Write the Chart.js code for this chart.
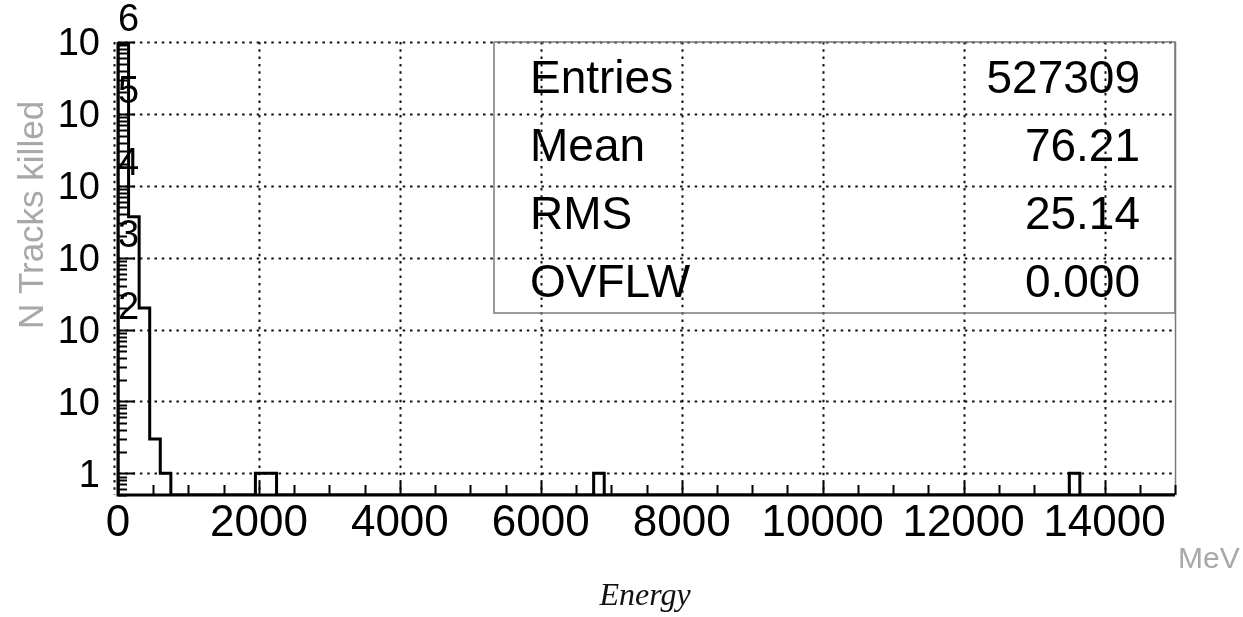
<!DOCTYPE html>
<html>
<head>
<meta charset="utf-8">
<script src="https://cdn.jsdelivr.net/npm/chart.js@4"></script>
<style>
  html, body { margin: 0; padding: 0; background: #fff; }
  canvas { display: block; }
</style>
</head>
<body>
<canvas id="histo" width="1243" height="617"></canvas>
<script>
// histogram contents: 100 bins of 150 MeV from 0 to 15000
const binWidth = 150;
const counts = [
  950000, 3700, 200, 3, 1, 0, 0, 0, 0, 0,
  0, 0, 0, 1, 1, 0, 0, 0, 0, 0,
  0, 0, 0, 0, 0, 0, 0, 0, 0, 0,
  0, 0, 0, 0, 0, 0, 0, 0, 0, 0,
  0, 0, 0, 0, 0, 1, 0, 0, 0, 0,
  0, 0, 0, 0, 0, 0, 0, 0, 0, 0,
  0, 0, 0, 0, 0, 0, 0, 0, 0, 0,
  0, 0, 0, 0, 0, 0, 0, 0, 0, 0,
  0, 0, 0, 0, 0, 0, 0, 0, 0, 0,
  1, 0, 0, 0, 0, 0, 0, 0, 0, 0
];

const xTicks = [0, 2000, 4000, 6000, 8000, 10000, 12000, 14000];
const yDecades = [0, 1, 2, 3, 4, 5, 6];   // exponents of 10
const statNames = ["Entries", "Mean", "RMS", "OVFLW"];
const statValues = ["527309", "76.21", "25.14", "0.000"];

const xMin = 0, xMax = 15000;
const yMin = 0.5, yMax = 1e6;

// outline points (step line through bin edges)
const points = [{ x: 0, y: yMin }];
counts.forEach((c, i) => points.push({ x: i * binWidth, y: Math.max(c, yMin) }));
points.push({ x: counts.length * binWidth, y: yMin });

function dotted(ctx, x1, y1, x2, y2) {
    ctx.save();
    ctx.strokeStyle = "#111";
    ctx.lineWidth = 2;
    ctx.setLineDash([2.5, 4.8]);
    ctx.beginPath();
    ctx.moveTo(x1, y1);
    ctx.lineTo(x2, y2);
    ctx.stroke();
    ctx.restore();
}

const decorations = {
    id: "decorations",
    beforeDatasetsDraw(chart) {
        const ctx = chart.ctx;
        const a = chart.chartArea;
        const xs = chart.scales.x, ys = chart.scales.y;
        // grid
        xTicks.forEach(v => {
            const px = Math.round(xs.getPixelForValue(v)) + 0.5;
            if (v === 0) dotted(ctx, px - 4, a.top, px - 4, a.bottom);
            else dotted(ctx, px, a.top, px, a.bottom);
        });
        yDecades.forEach(e => {
            const py = Math.round(ys.getPixelForValue(Math.pow(10, e))) + 0.5;
            dotted(ctx, a.left, py, a.right, py);
        });
    },
    afterDatasetsDraw(chart) {
        const ctx = chart.ctx;
        const a = chart.chartArea;
        const xs = chart.scales.x, ys = chart.scales.y;
        ctx.save();

        // stats box
        ctx.strokeStyle = "#7a7a7a";
        ctx.lineWidth = 1.5;
        ctx.strokeRect(494, a.top, a.right - 494, 313 - a.top);
        // right frame
        ctx.beginPath();
        ctx.moveTo(a.right + 0.5, a.top);
        ctx.lineTo(a.right + 0.5, a.bottom);
        ctx.stroke();

        ctx.fillStyle = "#000";
        ctx.font = '46px "Liberation Sans", Arial, sans-serif';
        ctx.textBaseline = "alphabetic";
        statNames.forEach((n, i) => {
            const base = 93 + i * 68;
            ctx.textAlign = "left";
            ctx.fillText(n, 530, base);
            ctx.textAlign = "right";
            ctx.fillText(statValues[i], 1140, base);
        });

        // axes lines
        ctx.strokeStyle = "#000";
        ctx.lineWidth = 3;
        ctx.beginPath();
        ctx.moveTo(a.left, a.top);
        ctx.lineTo(a.left, a.bottom);
        ctx.lineTo(a.right, a.bottom);
        ctx.stroke();

        // x ticks
        ctx.lineWidth = 2;
        for (let v = xMin; v <= xMax; v += 500) {
            const px = Math.round(xs.getPixelForValue(v)) + 0.5;
            const len = (v % 2000 === 0) ? 13 : 10;
            ctx.beginPath();
            ctx.moveTo(px, a.bottom);
            ctx.lineTo(px, a.bottom - len);
            ctx.stroke();
        }
        // y ticks (log minor)
        for (let e = -1; e <= 5; e++) {
            for (let m = 1; m <= 9; m++) {
                const v = m * Math.pow(10, e);
                if (v < yMin || v > yMax) continue;
                const py = Math.round(ys.getPixelForValue(v)) + 0.5;
                const len = (m === 1) ? 17 : 9;
                ctx.beginPath();
                ctx.moveTo(a.left, py);
                ctx.lineTo(a.left + len, py);
                ctx.stroke();
            }
        }
        {
            const py = Math.round(ys.getPixelForValue(yMax)) + 0.5;
            ctx.beginPath();
            ctx.moveTo(a.left, py);
            ctx.lineTo(a.left + 17, py);
            ctx.stroke();
        }

        // x tick labels
        ctx.fillStyle = "#000";
        ctx.font = '44px "Liberation Sans", Arial, sans-serif';
        ctx.textAlign = "center";
        ctx.textBaseline = "middle";
        xTicks.forEach(v => ctx.fillText(String(v), xs.getPixelForValue(v), 524));

        // y tick labels
        ctx.font = '38px "Liberation Sans", Arial, sans-serif';
        yDecades.forEach(e => {
            const py = ys.getPixelForValue(Math.pow(10, e));
            ctx.textAlign = "right";
            ctx.textBaseline = "middle";
            ctx.fillText(e === 0 ? "1" : "10", 100, py + 3);
            if (e >= 2) {
                ctx.textAlign = "left";
                ctx.fillText(String(e), 118, py - 21);
            }
        });

        // axis titles
        ctx.fillStyle = "#a8a8a8";
        ctx.font = '35px "Liberation Sans", Arial, sans-serif';
        ctx.save();
        ctx.translate(33, 215);
        ctx.rotate(-Math.PI / 2);
        ctx.textAlign = "center";
        ctx.textBaseline = "middle";
        ctx.fillText("N Tracks killed", 0, 0);
        ctx.restore();

        ctx.font = '30px "Liberation Sans", Arial, sans-serif';
        ctx.textAlign = "left";
        ctx.textBaseline = "middle";
        ctx.fillText("MeV", 1178, 560);

        ctx.fillStyle = "#111";
        ctx.font = 'italic 32px "Liberation Serif", "Times New Roman", serif';
        ctx.textAlign = "center";
        ctx.fillText("Energy", 645, 597);

        ctx.restore();
    }
};

const ctx = document.getElementById("histo").getContext("2d");
new Chart(ctx, {
    type: "line",
    data: {
        datasets: [{
            label: "N Tracks killed",
            data: points,
            stepped: true,
            borderColor: "#000",
            borderWidth: 3,
            pointRadius: 0,
            fill: false,
            tension: 0
        }]
    },
    options: {
        responsive: false,
        animation: false,
        devicePixelRatio: 1,
        layout: { padding: { left: 118, top: 42, right: 68, bottom: 122 } },
        scales: {
            x: { type: "linear", min: xMin, max: xMax, display: false },
            y: { type: "logarithmic", min: yMin, max: yMax, display: false }
        },
        plugins: {
            legend: { display: false },
            tooltip: { enabled: false }
        }
    },
    plugins: [decorations]
});
</script>
</body>
</html>
